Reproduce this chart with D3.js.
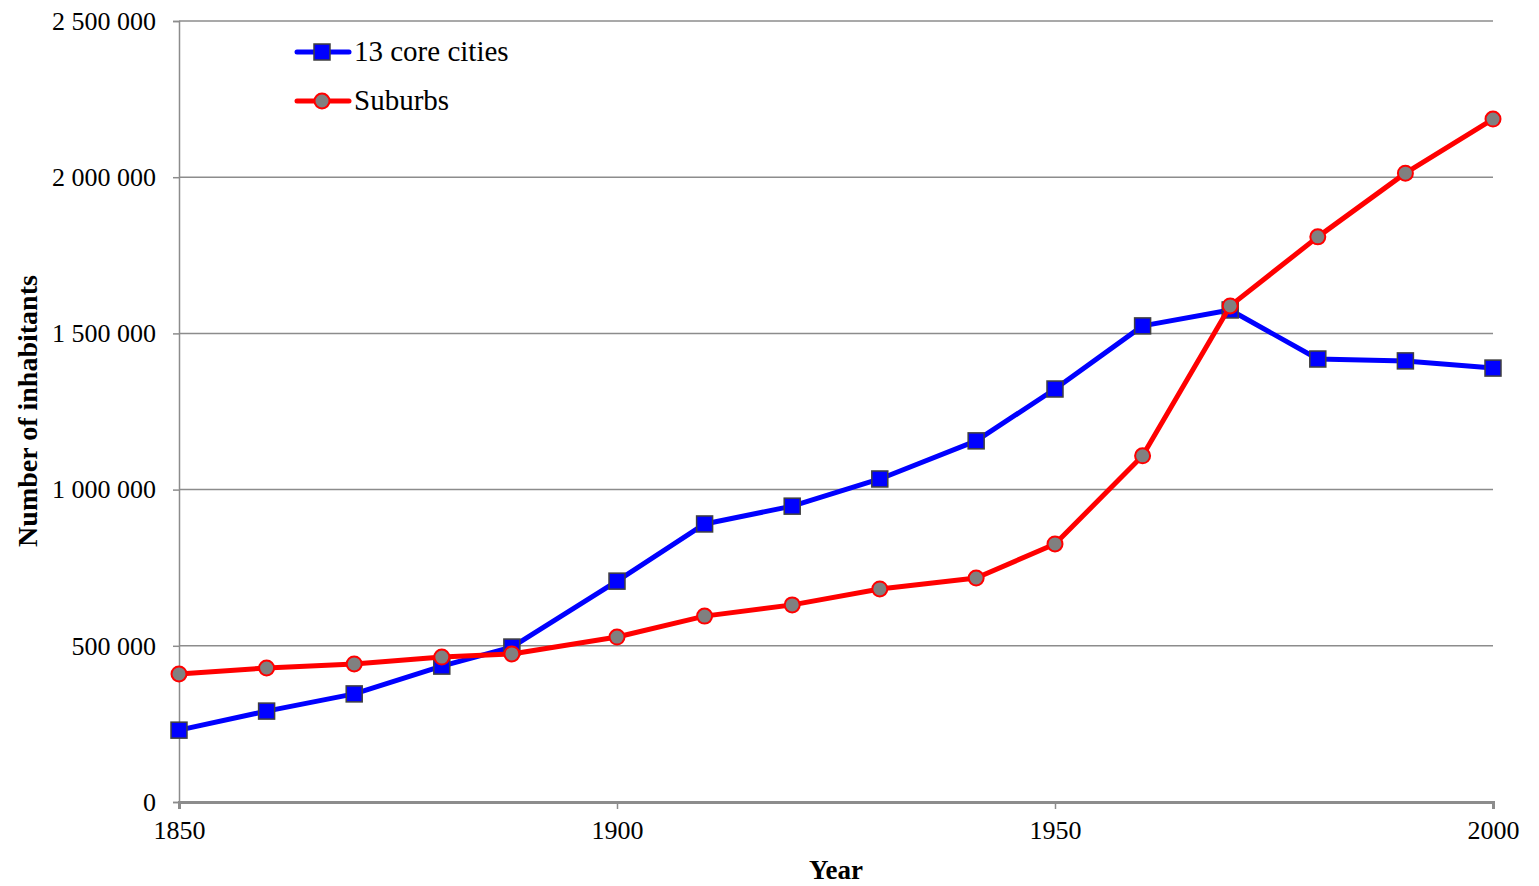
<html>
<head>
<title>Core cities vs suburbs</title>
<script src="https://d3js.org/d3.v7.min.js"></script>
<style>
body { margin: 0; background: white; }
text { font-family: "Liberation Serif", "Times New Roman", serif; fill: black; }
</style>
</head>
<body>
<svg width="1539" height="886"></svg>
<script>
// data
var years = [1850, 1860, 1870, 1880, 1888, 1900, 1910, 1920, 1930, 1941, 1950, 1960, 1970, 1980, 1990, 2000];
var coreCities = [230000, 291000, 346000, 435000, 496000, 707000, 890000, 947000, 1034000, 1156000, 1322000, 1524000, 1575000, 1418000, 1412000, 1389000];
var suburbs = [410000, 429000, 442000, 464000, 474000, 528000, 595000, 631000, 682000, 717000, 826000, 1108000, 1588000, 1809000, 2013000, 2186000];
var yTicks = [0, 500000, 1000000, 1500000, 2000000, 2500000];
var xTicks = [1850, 1900, 1950, 2000];
var seriesNames = ["13 core cities", "Suburbs"];

var svg = d3.select("svg");
var x = d3.scaleLinear().domain([1850, 2000]).range([179, 1493]);
var y = d3.scaleLinear().domain([0, 2500000]).range([802, 21]);

function fmt(v) {
  return d3.format(",")(v).replace(/,/g, " ");
}

// gridlines
svg.append("g").selectAll("line")
  .data(yTicks.slice(1))
  .enter().append("line")
    .attr("x1", 179).attr("x2", 1493)
    .attr("y1", function(d) { return y(d); })
    .attr("y2", function(d) { return y(d); })
    .style("stroke", "#8c8c8c").style("stroke-width", 1.5);

// y axis
var yAxis = svg.append("g")
  .attr("transform", "translate(179,0)")
  .call(d3.axisLeft(y).tickValues(yTicks).tickSize(6).tickPadding(17).tickFormat(fmt));
yAxis.select(".domain").style("stroke", "#8c8c8c").style("stroke-width", 1.5);
yAxis.selectAll(".tick line").style("stroke", "#8c8c8c").style("stroke-width", 1.5);
yAxis.selectAll("text").style("font-size", "26px").style("font-family", "Liberation Serif");

// x axis
var xAxis = svg.append("g")
  .attr("transform", "translate(0,802)")
  .call(d3.axisBottom(x).tickValues(xTicks).tickSize(7).tickPadding(12).tickFormat(d3.format("d")));
xAxis.select(".domain").style("stroke", "#8c8c8c").style("stroke-width", 3);
xAxis.selectAll(".tick line").style("stroke", "#8c8c8c").style("stroke-width", 1.5);
xAxis.selectAll("text").style("font-size", "26px").style("font-family", "Liberation Serif");

// axis titles
svg.append("text")
  .attr("transform", "translate(37,411) rotate(-90)")
  .style("text-anchor", "middle")
  .style("font-size", "28px").style("font-weight", "bold")
  .text("Number of inhabitants");

svg.append("text")
  .attr("x", 836).attr("y", 879)
  .style("text-anchor", "middle")
  .style("font-size", "27px").style("font-weight", "bold")
  .text("Year");

var line = d3.line()
  .x(function(d) { return x(d[0]); })
  .y(function(d) { return y(d[1]); });

var blueData = years.map(function(yr, i) { return [yr, coreCities[i]]; });
var redData = years.map(function(yr, i) { return [yr, suburbs[i]]; });

// core cities
svg.append("path")
  .datum(blueData)
  .attr("d", line)
  .style("fill", "none").style("stroke", "#0000ff").style("stroke-width", 5)
  .style("stroke-linejoin", "round");
svg.append("g").selectAll("rect")
  .data(blueData)
  .enter().append("rect")
    .attr("x", function(d) { return x(d[0]) - 8; })
    .attr("y", function(d) { return y(d[1]) - 8; })
    .attr("width", 16).attr("height", 16)
    .style("fill", "#0000ff").style("stroke", "#404040").style("stroke-width", 1.5);

// suburbs
svg.append("path")
  .datum(redData)
  .attr("d", line)
  .style("fill", "none").style("stroke", "#ff0000").style("stroke-width", 5)
  .style("stroke-linejoin", "round");
svg.append("g").selectAll("circle")
  .data(redData)
  .enter().append("circle")
    .attr("cx", function(d) { return x(d[0]); })
    .attr("cy", function(d) { return y(d[1]); })
    .attr("r", 7.5)
    .style("fill", "#808080").style("stroke", "#ff0000").style("stroke-width", 2);

// legend
var leg = svg.append("g");
leg.append("line").attr("x1", 297).attr("x2", 349).attr("y1", 52).attr("y2", 52)
  .style("stroke", "#0000ff").style("stroke-width", 5).style("stroke-linecap", "round");
leg.append("rect").attr("x", 314).attr("y", 44).attr("width", 16).attr("height", 16)
  .style("fill", "#0000ff").style("stroke", "#404040").style("stroke-width", 1.5);
leg.append("text").attr("x", 354).attr("y", 61).style("font-size", "29px").text(seriesNames[0]);

leg.append("line").attr("x1", 297).attr("x2", 349).attr("y1", 101).attr("y2", 101)
  .style("stroke", "#ff0000").style("stroke-width", 5).style("stroke-linecap", "round");
leg.append("circle").attr("cx", 322).attr("cy", 101).attr("r", 7.5)
  .style("fill", "#808080").style("stroke", "#ff0000").style("stroke-width", 2);
leg.append("text").attr("x", 354).attr("y", 110).style("font-size", "29px").text(seriesNames[1]);
</script>
</body>
</html>
